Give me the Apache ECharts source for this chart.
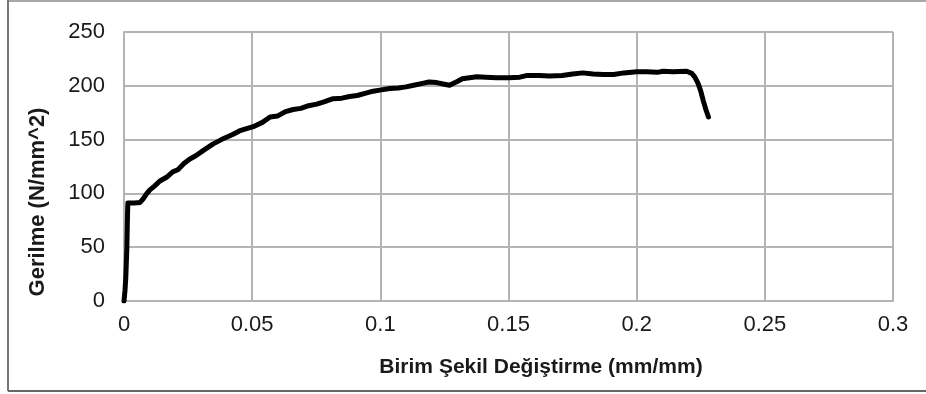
<!DOCTYPE html>
<html>
<head>
<meta charset="utf-8">
<script src="https://cdn.jsdelivr.net/npm/echarts@6/dist/echarts.min.js"></script>
<style>html,body{margin:0;padding:0;background:#fff;}#c{width:926px;height:394px;}</style>
</head>
<body>
<div id="c"></div>
<script>
// Strain (mm/mm)
const strain = [0, 0.0004, 0.0007, 0.0009, 0.0011, 0.0012, 0.0013, 0.0014, 0.0015, 0.002, 0.004, 0.0062, 0.0075, 0.0088, 0.010, 0.012, 0.014, 0.0166, 0.019, 0.021, 0.0235, 0.0257, 0.028, 0.031, 0.0348, 0.038, 0.0426, 0.045, 0.0475, 0.0504, 0.054, 0.057, 0.060, 0.063, 0.066, 0.069, 0.072, 0.0752, 0.078, 0.0816, 0.085, 0.088, 0.091, 0.094, 0.0972, 0.0998, 0.1037, 0.107, 0.110, 0.113, 0.116, 0.119, 0.122, 0.125, 0.127, 0.130, 0.132, 0.1376, 0.141, 0.1454, 0.150, 0.1544, 0.157, 0.162, 0.166, 0.171, 0.175, 0.179, 0.183, 0.187, 0.191, 0.195, 0.200, 0.204, 0.208, 0.2103, 0.214, 0.2195, 0.2215, 0.2227, 0.2240, 0.2250, 0.2260, 0.2270, 0.2280];
// Stress (N/mm^2)
const stress = [0, 10, 22, 35, 48, 60, 72, 83, 91, 91.5, 91, 91.5, 95, 99.5, 103, 107, 111.5, 115, 120, 122, 128, 132, 135, 140, 146, 150, 155, 158, 160, 162, 166, 171, 172, 176, 178, 179, 181.5, 183, 185, 188, 188.5, 190, 191, 193, 195, 196, 197.5, 198, 199, 200.5, 202, 203.5, 203, 201.5, 200.5, 204, 206.5, 208.5, 208, 207.5, 207.5, 208, 209.5, 209.5, 209, 209.5, 211, 212, 211, 210.5, 210.5, 212, 213, 213, 212.5, 213.5, 213, 213.5, 211.5, 208, 202, 195, 186, 178, 171];
const xTicks = [0, 0.05, 0.1, 0.15, 0.2, 0.25, 0.3];
const yTicks = [0, 50, 100, 150, 200, 250];
const xTitle = 'Birim Şekil Değiştirme (mm/mm)';
const yTitle = 'Gerilme (N/mm^2)';

const points = strain.map((s, i) => [s, stress[i]]);
const chart = echarts.init(document.getElementById('c'), null, {renderer: 'canvas'});
const gridColor = '#b4b4b4';
const font = 'Liberation Sans, Arial, sans-serif';
chart.setOption({
  animation: false,
  backgroundColor: '#fff',
  grid: {left: 124, right: 33, top: 32, bottom: 93, containLabel: false},
  xAxis: {
    type: 'value', min: xTicks[0], max: xTicks[xTicks.length - 1], interval: 0.05,
    axisLine: {show: true, lineStyle: {color: gridColor, width: 2}},
    axisTick: {show: false},
    splitLine: {show: true, lineStyle: {color: gridColor, width: 2}},
    axisLabel: {color: '#1a1a1a', fontSize: 22, fontFamily: font, margin: 13,
      formatter: v => String(parseFloat(v.toFixed(2)))}
  },
  yAxis: {
    type: 'value', min: yTicks[0], max: yTicks[yTicks.length - 1], interval: 50,
    axisLine: {show: true, lineStyle: {color: gridColor, width: 2}},
    axisTick: {show: false},
    splitLine: {show: true, lineStyle: {color: gridColor, width: 2}},
    axisLabel: {color: '#1a1a1a', fontSize: 22, fontFamily: font, margin: 19}
  },
  graphic: [
    {type: 'line', shape: {x1: 8, y1: 1, x2: 926, y2: 1}, style: {stroke: '#a8a8a8', lineWidth: 2}},
    {type: 'line', shape: {x1: 8, y1: 0, x2: 8, y2: 391}, style: {stroke: '#777', lineWidth: 2}},
    {type: 'line', shape: {x1: 8, y1: 391, x2: 926, y2: 391}, style: {stroke: '#666', lineWidth: 2}},
    {type: 'text', x: 541, y: 367, style: {text: xTitle, font: 'bold 21px ' + font, fill: '#1a1a1a', textAlign: 'center', textVerticalAlign: 'middle'}},
    {type: 'text', x: 38, y: 202, rotation: Math.PI / 2, style: {text: yTitle, font: 'bold 22px ' + font, fill: '#1a1a1a', textAlign: 'center', textVerticalAlign: 'middle'}}
  ],
  series: [{
    type: 'line', data: points, symbol: 'none', smooth: false,
    lineStyle: {color: '#000', width: 5, join: 'round', cap: 'round'}
  }]
});
</script>
</body>
</html>
